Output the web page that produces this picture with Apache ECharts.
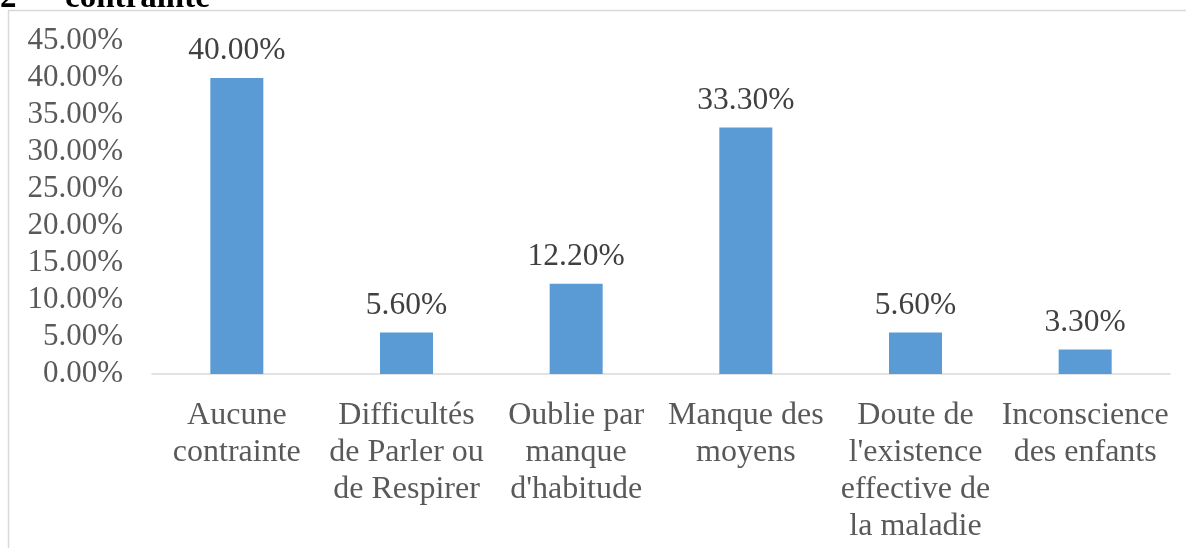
<!DOCTYPE html>
<html>
<head>
<meta charset="utf-8">
<script src="https://cdn.jsdelivr.net/npm/echarts@6/dist/echarts.min.js"></script>
<style>
  html, body { margin: 0; padding: 0; background: #fff; }
  #chart { width: 1186px; height: 548px; }
</style>
</head>
<body>
<div id="chart"></div>
<script>
var categories = ['Aucune\ncontrainte', 'Difficultés\nde Parler ou\nde Respirer', 'Oublie par\nmanque\nd\'habitude',
                  'Manque des\nmoyens', 'Doute de\nl\'existence\neffective de\nla maladie', 'Inconscience\ndes enfants'];
var values = [40.0, 5.6, 12.2, 33.3, 5.6, 3.3];
var yTicks = [0, 45, 5];  // min, max, interval

var chart = echarts.init(document.getElementById('chart'));
var font = '"Liberation Serif", "DejaVu Serif", serif';

option = {
    animation: false,
    textStyle: { fontFamily: font },
    graphic: [
        {
            type: 'rect',
            shape: { x: 8.5, y: 10.5, width: 1300, height: 700 },
            style: { fill: 'none', stroke: '#D9D9D9', lineWidth: 1.5 },
            silent: true
        },
        {
            type: 'text',
            style: { x: 0, y: 15, text: '2', font: 'bold 33px ' + font, fill: '#000', verticalAlign: 'bottom' }
        },
        {
            type: 'text',
            style: { x: 65, y: 15, text: 'contrainte', font: 'bold 33px ' + font, fill: '#000', verticalAlign: 'bottom' }
        }
    ],
    grid: {
        left: 152,
        right: 16,
        top: 41,
        bottom: 174,
        containLabel: false
    },
    xAxis: [{
        type: 'category',
        data: categories,
        axisLine: { lineStyle: { color: '#D9D9D9', width: 1.5 } },
        axisTick: { show: false },
        axisLabel: {
            interval: 0,
            color: '#595959',
            fontSize: 32,
            lineHeight: 37,
            margin: 23,
            fontFamily: font
        }
    }],
    yAxis: [{
        type: 'value',
        min: yTicks[0],
        max: yTicks[1],
        interval: yTicks[2],
        axisLine: { show: false },
        axisTick: { show: false },
        splitLine: { show: false },
        axisLabel: {
            color: '#595959',
            fontSize: 31,
            margin: 29,
            padding: [8, 0, 0, 0],
            fontFamily: font,
            formatter: function (v) { return v.toFixed(2) + '%'; }
        }
    }],
    series: [{
        type: 'bar',
        data: values,
        barWidth: 53,
        itemStyle: { color: '#5B9BD5' },
        label: {
            show: true,
            position: 'top',
            distance: 11,
            color: '#404040',
            fontSize: 31.5,
            fontFamily: font,
            formatter: function (p) { return p.value.toFixed(2) + '%'; }
        }
    }]
};
chart.setOption(option);
</script>
</body>
</html>
